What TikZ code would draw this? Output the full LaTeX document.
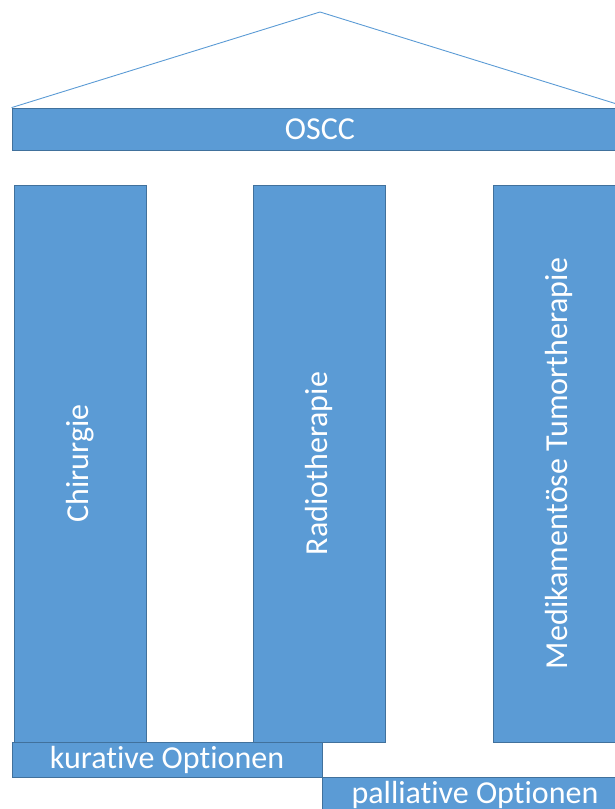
\documentclass[tikz,border=0pt]{standalone}
\usepackage{fontspec}
\setmainfont{Carlito}[Ligatures={NoCommon}]
\usetikzlibrary{positioning}
\definecolor{pillarblue}{HTML}{5B9BD5}
\definecolor{edgeblue}{HTML}{41719C}
\tikzset{
	block/.style={draw=edgeblue, line width=0.8pt, fill=pillarblue, text=white,
		inner sep=0pt, font=\fontsize{32}{34}\selectfont},
	pillar/.style={block, rotate=90, minimum width=557, minimum height=132},
	roof/.style={draw=pillarblue, line width=0.9pt}
}

\begin{document}
\begin{tikzpicture}[x=1pt, y=-1pt]
	%%%%% START %%%%%
	\useasboundingbox (0, 0) rectangle (615, 809);
	\clip (0, 0) rectangle (615, 809);
	
	\node[block, minimum width=616, minimum height=42] (oscc) at (320, 129) {OSCC};
	\coordinate (apex) at (320, 12);
	\draw[roof] (oscc.north west) -- (apex) -- (oscc.north east);
	
	\node[pillar] (chir) at (80, 463.5) {Chirurgie};
	\node[pillar] (radio) at (319, 463.5) {Radiotherapie};
	\node[pillar] (medi) at (559, 463.5) {Medikamentöse Tumortherapie};
	
	\node[block, minimum width=310, minimum height=35] (kurativ) at (167, 759.5) {kurative Optionen};
	\node[block, minimum width=306, minimum height=35] (palliativ) at (475, 794.5) {palliative Optionen};
	%%%%% END %%%%%
\end{tikzpicture}
\end{document}
